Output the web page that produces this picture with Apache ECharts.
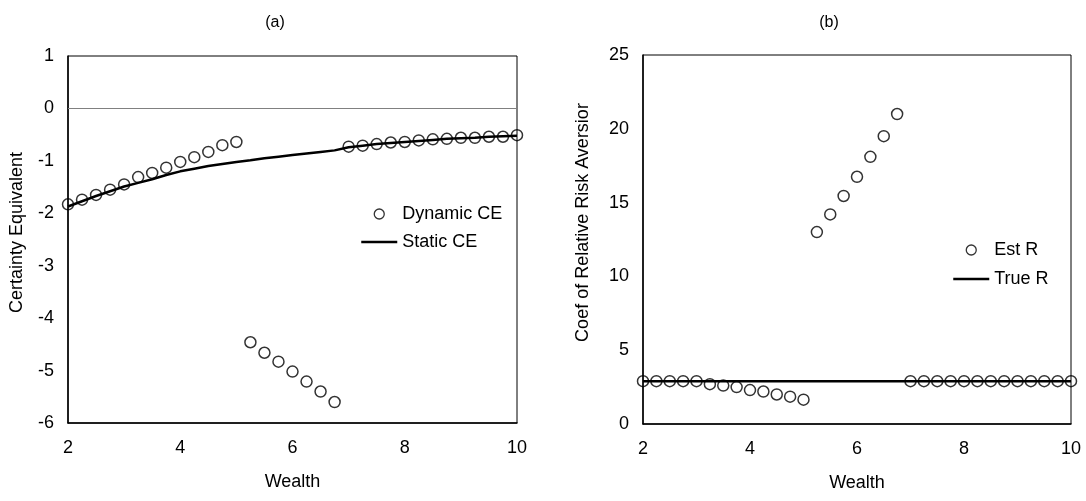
<!DOCTYPE html>
<html>
<head>
<meta charset="utf-8">
<script src="https://cdn.jsdelivr.net/npm/echarts@6/dist/echarts.min.js"></script>
<style>
html,body{margin:0;padding:0;background:#fff;}
#chart{width:1086px;height:501px;}
</style>
</head>
<body>
<div id="chart"></div>
<script>
// ---- data ----
const wealth = [2, 2.25, 2.5, 2.75, 3, 3.25, 3.5, 3.75, 4, 4.25, 4.5, 4.75, 5, 5.25, 5.5, 5.75, 6, 6.25, 6.5, 6.75, 7, 7.25, 7.5, 7.75, 8, 8.25, 8.5, 8.75, 9, 9.25, 9.5, 9.75, 10];
const dynamicCE = [-1.83, -1.74, -1.65, -1.55, -1.45, -1.31, -1.23, -1.13, -1.02, -0.93, -0.83, -0.70, -0.64,
  -4.46, -4.66, -4.83, -5.02, -5.21, -5.40, -5.60,
  -0.73, -0.71, -0.68, -0.65, -0.64, -0.61, -0.59, -0.58, -0.56, -0.56, -0.54, -0.54, -0.51];
const staticCE = [-1.87, -1.77, -1.67, -1.58, -1.49, -1.42, -1.35, -1.27, -1.20, -1.15, -1.10, -1.06, -1.02,
  -0.99, -0.95, -0.92, -0.89, -0.86, -0.83, -0.80,
  -0.74, -0.71, -0.68, -0.66, -0.64, -0.62, -0.60, -0.58, -0.57, -0.56, -0.54, -0.53, -0.52];
const estR = [2.9, 2.9, 2.9, 2.9, 2.9, 2.7, 2.6, 2.5, 2.3, 2.2, 2.0, 1.85, 1.65,
  13.0, 14.2, 15.45, 16.75, 18.1, 19.5, 21.0,
  2.9, 2.9, 2.9, 2.9, 2.9, 2.9, 2.9, 2.9, 2.9, 2.9, 2.9, 2.9, 2.9];
const trueRWealth = [2, 10];
const trueR = [2.9, 2.9];
const titles = ['(a)', '(b)'];

// ---- chart ----
const FONT = 'Liberation Sans, Arial, sans-serif';
const txt = {color: '#000', fontFamily: FONT, fontSize: 18};
const pairs = (xs, ys) => xs.map((x, i) => [x, ys[i]]);
const hollow = {color: 'rgba(0,0,0,0)', borderColor: '#000', borderWidth: 1.5};
const noDot = {color: 'rgba(0,0,0,0)', borderWidth: 0, opacity: 0};
const legendLine = {color: '#000', width: 2.5};
const legendCircle = {color: 'rgba(0,0,0,0)', borderColor: '#000', borderWidth: 1.3};

function xAxis(gi) {
  return {
    type: 'value', gridIndex: gi, min: 2, max: 10, interval: 2,
    name: 'Wealth', nameLocation: 'middle', nameGap: 50, nameTextStyle: txt,
    axisLine: {show: true, onZero: false, lineStyle: {color: '#000', width: 1.5}},
    axisTick: {show: false}, splitLine: {show: false},
    axisLabel: Object.assign({margin: 16}, txt)
  };
}

const chart = echarts.init(document.getElementById('chart'), null, {renderer: 'canvas'});
chart.setOption({
  backgroundColor: '#fff',
  animation: false,
  title: [
    {text: titles[0], left: 270, top: 10, textAlign: 'center', textStyle: {color: '#000', fontFamily: FONT, fontSize: 16, fontWeight: 'normal'}},
    {text: titles[1], left: 824, top: 10, textAlign: 'center', textStyle: {color: '#000', fontFamily: FONT, fontSize: 16, fontWeight: 'normal'}}
  ],
  grid: [
    {left: 68, right: 569, top: 56, bottom: 78, show: true, borderColor: '#000', borderWidth: 1, backgroundColor: 'transparent'},
    {left: 643, right: 15, top: 55, bottom: 77, show: true, borderColor: '#000', borderWidth: 1, backgroundColor: 'transparent'}
  ],
  xAxis: [xAxis(0), xAxis(1)],
  yAxis: [
    {type: 'value', gridIndex: 0, min: -6, max: 1, interval: 1,
     name: 'Certainty Equivalent', nameLocation: 'middle', nameGap: 42,
     nameTextStyle: Object.assign({padding: [0, 0, 0, 14]}, txt),
     axisLine: {show: true, onZero: false, lineStyle: {color: '#000', width: 1.5}},
     axisTick: {show: false}, splitLine: {show: false},
     axisLabel: Object.assign({margin: 14}, txt)},
    {type: 'value', gridIndex: 1, min: 0, max: 25, interval: 5,
     name: 'Coef of Relative Risk Aversior', nameLocation: 'middle', nameGap: 51,
     nameTextStyle: Object.assign({padding: [0, 0, 0, 34]}, txt),
     axisLine: {show: true, onZero: false, lineStyle: {color: '#000', width: 1.5}},
     axisTick: {show: false}, splitLine: {show: false},
     axisLabel: Object.assign({margin: 14}, txt)}
  ],
  legend: [
    {orient: 'vertical', left: 355, top: 200, itemWidth: 36, itemHeight: 10, itemGap: 10,
     textStyle: Object.assign({lineHeight: 18}, txt), selectedMode: false,
     data: [{name: 'Dynamic CE', icon: 'circle', itemStyle: legendCircle},
            {name: 'Static CE', itemStyle: noDot, lineStyle: legendLine}]},
    {orient: 'vertical', left: 947, top: 236, itemWidth: 36, itemHeight: 10, itemGap: 11,
     textStyle: Object.assign({lineHeight: 18}, txt), selectedMode: false,
     data: [{name: 'Est R', icon: 'circle', itemStyle: legendCircle},
            {name: 'True R', itemStyle: noDot, lineStyle: legendLine}]}
  ],
  series: [
    {name: 'Dynamic CE', type: 'scatter', xAxisIndex: 0, yAxisIndex: 0,
     symbol: 'circle', symbolSize: 11, itemStyle: hollow, z: 3,
     data: pairs(wealth, dynamicCE)},
    {name: 'Static CE', type: 'line', xAxisIndex: 0, yAxisIndex: 0,
     symbol: 'none', lineStyle: {color: '#000', width: 2.5}, itemStyle: {color: '#000'}, z: 4,
     data: pairs(wealth, staticCE),
     markLine: {silent: true, symbol: 'none', label: {show: false},
       lineStyle: {color: '#808080', width: 1, type: 'solid'}, data: [{yAxis: 0}]}},
    {name: 'Est R', type: 'scatter', xAxisIndex: 1, yAxisIndex: 1,
     symbol: 'circle', symbolSize: 11, itemStyle: hollow, z: 3,
     data: pairs(wealth, estR)},
    {name: 'True R', type: 'line', xAxisIndex: 1, yAxisIndex: 1,
     symbol: 'none', lineStyle: {color: '#000', width: 2.5}, itemStyle: {color: '#000'}, z: 4,
     data: pairs(trueRWealth, trueR)}
  ]
});
</script>
</body>
</html>
